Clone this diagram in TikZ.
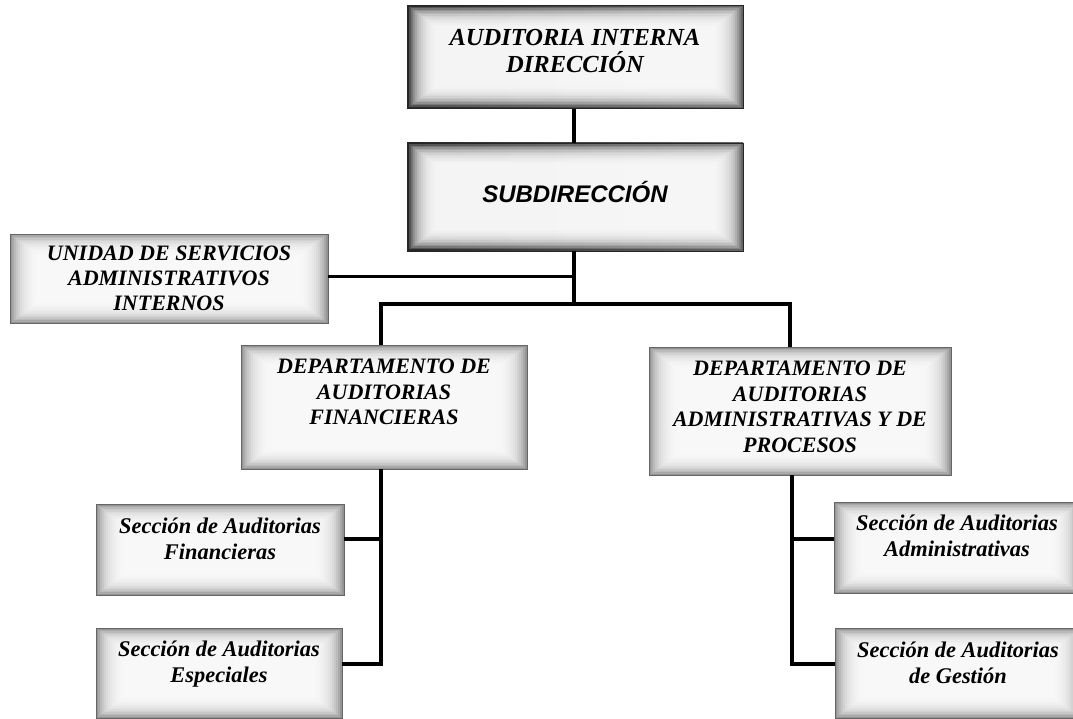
\documentclass[tikz,border=0pt]{standalone}
\usepackage{fontspec}
\setmainfont{Liberation Serif}
\newfontfamily\arialf{Liberation Sans}
\begin{document}
\begin{tikzpicture}[x=1pt,y=-1pt,
  orgbox/.style={draw=black!60, line width=0.8pt, fill=black!42, inner sep=0pt,
    path picture={\foreach \i in {1,...,14}{\fill[white,opacity=0.2]
      ([xshift=\i*2pt, yshift=\i*1.5pt]path picture bounding box.south west) rectangle
      ([xshift=-\i*2pt, yshift=-\i*1.5pt]path picture bounding box.north east);}}},
  darkbox/.style={orgbox, left color=black!85, right color=black!60, draw=black!85},
  boxtext/.style={align=center, inner sep=0pt, font=\bfseries\itshape\fontsize{22}{25.5}\selectfont},
  sectext/.style={boxtext, font=\bfseries\itshape\fontsize{22.4}{26}\selectfont},
  conn/.style={line width=3.5pt, line join=miter}
]
\useasboundingbox (0,0) rectangle (1073,719);
\begin{scope}
\clip (0,0) rectangle (1073,719);
\node[darkbox, minimum width=336pt, minimum height=103pt,
  label={[boxtext, font=\bfseries\itshape\fontsize{24.5}{27}\selectfont, yshift=6pt]center:AUDITORIA INTERNA\\DIRECCIÓN}] (A) at (575,57) {};
\node[darkbox, minimum width=336pt, minimum height=108pt,
  label={[boxtext, font=\arialf\bfseries\itshape\fontsize{24}{25}\selectfont, yshift=5pt]center:SUBDIRECCIÓN}] (B) at (575,197) {};
\node[orgbox, minimum width=318pt, minimum height=89pt,
  label={[boxtext, font=\bfseries\itshape\fontsize{22}{25}\selectfont]center:UNIDAD DE SERVICIOS\\ADMINISTRATIVOS\\INTERNOS}] (C) at (169,278.5) {};
\node[orgbox, minimum width=286pt, minimum height=124pt,
  label={[boxtext, yshift=15pt]center:DEPARTAMENTO DE\\AUDITORIAS\\FINANCIERAS}] (D) at (384,407) {};
\node[orgbox, minimum width=302pt, minimum height=128pt,
  label={[boxtext, yshift=4pt]center:DEPARTAMENTO DE\\AUDITORIAS\\ADMINISTRATIVAS Y DE\\PROCESOS}] (E) at (800,411) {};
\node[orgbox, minimum width=248pt, minimum height=91pt,
  label={[sectext, yshift=11pt]center:Sección de Auditorias\\Financieras}] (F) at (220,549.5) {};
\node[orgbox, minimum width=246pt, minimum height=90pt,
  label={[sectext, yshift=9pt]center:Sección de Auditorias\\Especiales}] (G) at (219,673) {};
\node[orgbox, minimum width=246pt, minimum height=91pt,
  label={[sectext, yshift=11.5pt]center:Sección de Auditorias\\Administrativas}] (H) at (957,547.5) {};
\node[orgbox, minimum width=246pt, minimum height=90pt,
  label={[sectext, yshift=10pt]center:Sección de Auditorias\\de Gestión}] (I) at (958,673) {};
\end{scope}
\coordinate (tx) at (574,0);
\coordinate (jc) at (574,304);
\coordinate (jl) at (381,304);
\coordinate (jr) at (790,304);
\coordinate (lx) at (381,0);
\coordinate (rx) at (792,0);
\coordinate (yg) at (0,664);
\coordinate (yf) at (0,539);
\draw[conn] (A.south -| tx) -- (B.north -| tx);
\draw[conn] (B.south -| tx) -- (jc);
\draw[conn] (C.east |- 0,276.5) -- (574,276.5);
\draw[conn] (D.north -| jl) -- (jl) -- (jr) -- (E.north -| jr);
\draw[conn] (D.south -| lx) -- (lx |- yg) -- (G.east |- yg);
\draw[conn] (F.east |- yf) -- (lx |- yf);
\draw[conn] (E.south -| rx) -- (rx |- yg) -- (I.west |- yg);
\draw[conn] (H.west |- yf) -- (rx |- yf);
\end{tikzpicture}
\end{document}
